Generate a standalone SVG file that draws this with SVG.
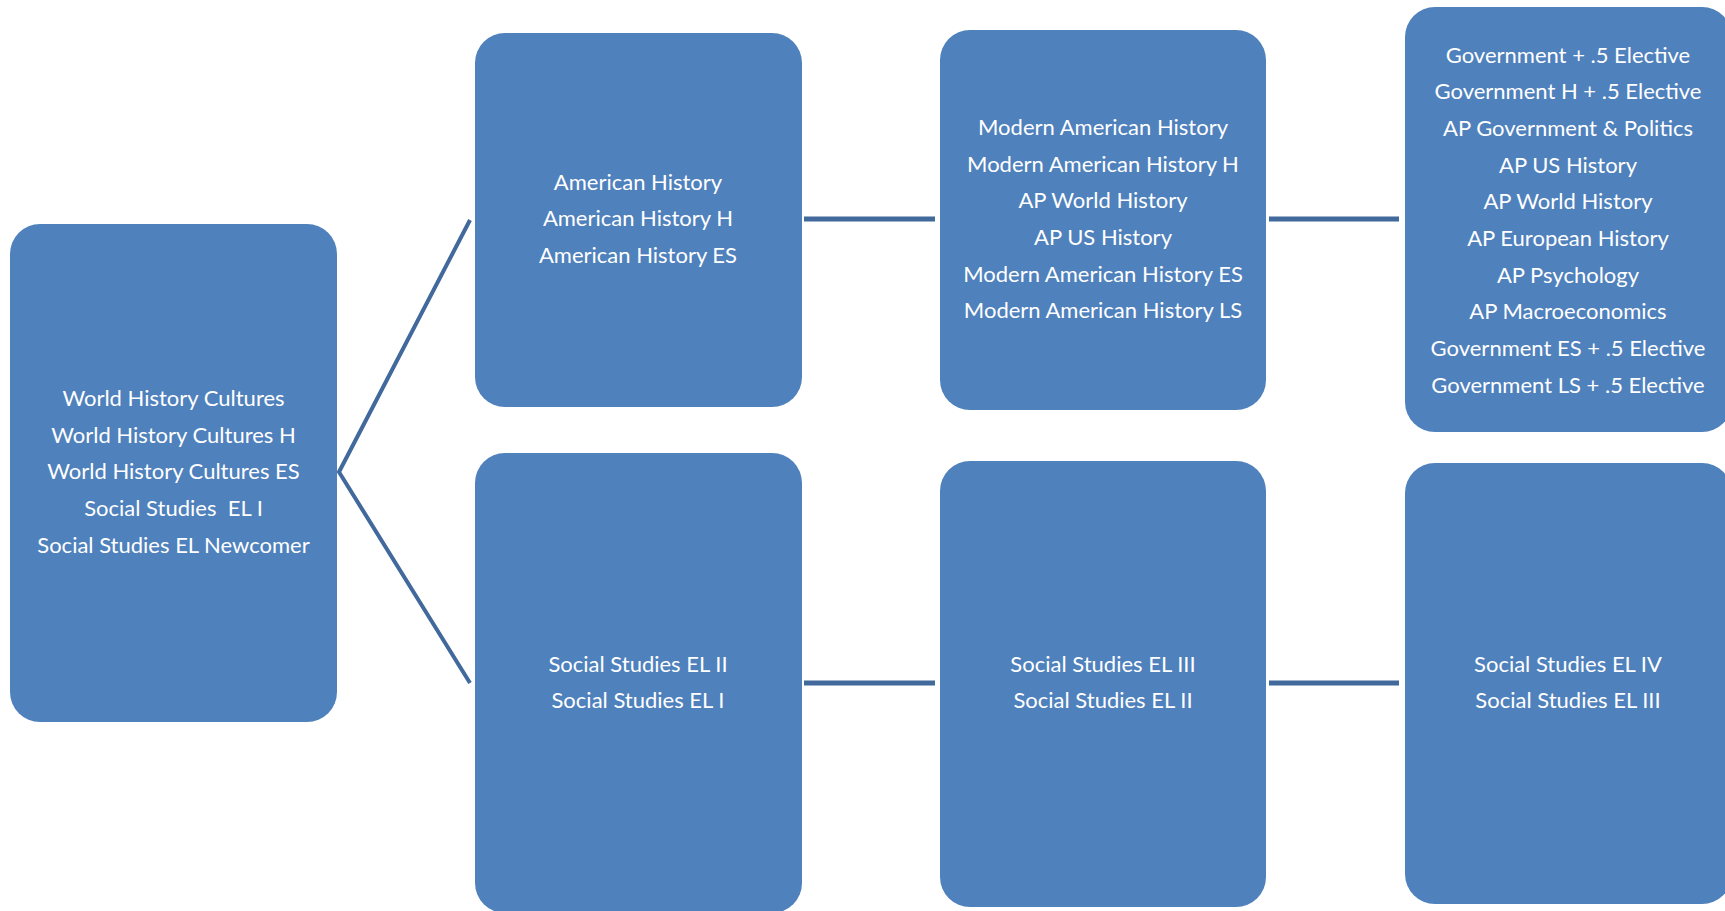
<svg xmlns="http://www.w3.org/2000/svg" width="1725" height="911" viewBox="0 0 1725 911">
<style>
.box{fill:#4F81BD;}
.t{font-family:Lato,"Open Sans","Liberation Sans",sans-serif;font-size:22px;fill:#FFFFFF;text-anchor:middle;}
.c{stroke:#41699C;stroke-width:5;fill:none;}
.d{stroke:#41699C;stroke-width:4;fill:none;}
</style>
<rect width="1725" height="911" fill="#FFFFFF"/>
<g id="connectors">
<polyline class="d" points="470,220 339,472 470,683"/>
<line class="c" x1="804" y1="219" x2="935" y2="219"/>
<line class="c" x1="1269" y1="219" x2="1399" y2="219"/>
<line class="c" x1="804" y1="683" x2="935" y2="683"/>
<line class="c" x1="1269" y1="683" x2="1399" y2="683"/>
</g>
<g id="node-world">
<rect class="box" x="10" y="224" width="327" height="498" rx="30"/>
<text class="t" x="173.5" y="406">World History Cultures</text>
<text class="t" x="173.5" y="442.7">World History Cultures H</text>
<text class="t" x="173.5" y="479.3">World History Cultures ES</text>
<text class="t" x="173.5" y="516" xml:space="preserve">Social Studies  EL I</text>
<text class="t" x="173.5" y="552.7">Social Studies EL Newcomer</text>
</g>
<g id="node-american">
<rect class="box" x="475" y="33" width="327" height="374" rx="30"/>
<text class="t" x="638" y="189.7">American History</text>
<text class="t" x="638" y="226.3">American History H</text>
<text class="t" x="638" y="263">American History ES</text>
</g>
<g id="node-modern">
<rect class="box" x="940" y="30" width="326" height="380" rx="30"/>
<text class="t" x="1103" y="135">Modern American History</text>
<text class="t" x="1103" y="171.7">Modern American History H</text>
<text class="t" x="1103" y="208.3">AP World History</text>
<text class="t" x="1103" y="245">AP US History</text>
<text class="t" x="1103" y="281.7">Modern American History ES</text>
<text class="t" x="1103" y="318.3">Modern American History LS</text>
</g>
<g id="node-government">
<rect class="box" x="1405" y="7" width="327" height="425" rx="30"/>
<text class="t" x="1568" y="62.7">Government + .5 Elective</text>
<text class="t" x="1568" y="99.3">Government H + .5 Elective</text>
<text class="t" x="1568" y="136">AP Government &amp; Politics</text>
<text class="t" x="1568" y="172.7">AP US History</text>
<text class="t" x="1568" y="209.3">AP World History</text>
<text class="t" x="1568" y="246">AP European History</text>
<text class="t" x="1568" y="282.7">AP Psychology</text>
<text class="t" x="1568" y="319.3">AP Macroeconomics</text>
<text class="t" x="1568" y="356">Government ES + .5 Elective</text>
<text class="t" x="1568" y="392.7">Government LS + .5 Elective</text>
</g>
<g id="node-el2">
<rect class="box" x="475" y="453" width="327" height="460" rx="30"/>
<text class="t" x="638" y="671.7">Social Studies EL II</text>
<text class="t" x="638" y="708.3">Social Studies EL I</text>
</g>
<g id="node-el3">
<rect class="box" x="940" y="461" width="326" height="446" rx="30"/>
<text class="t" x="1103" y="671.7">Social Studies EL III</text>
<text class="t" x="1103" y="708.3">Social Studies EL II</text>
</g>
<g id="node-el4">
<rect class="box" x="1405" y="463" width="327" height="441" rx="30"/>
<text class="t" x="1568" y="671.7">Social Studies EL IV</text>
<text class="t" x="1568" y="708.3">Social Studies EL III</text>
</g>
</svg>
